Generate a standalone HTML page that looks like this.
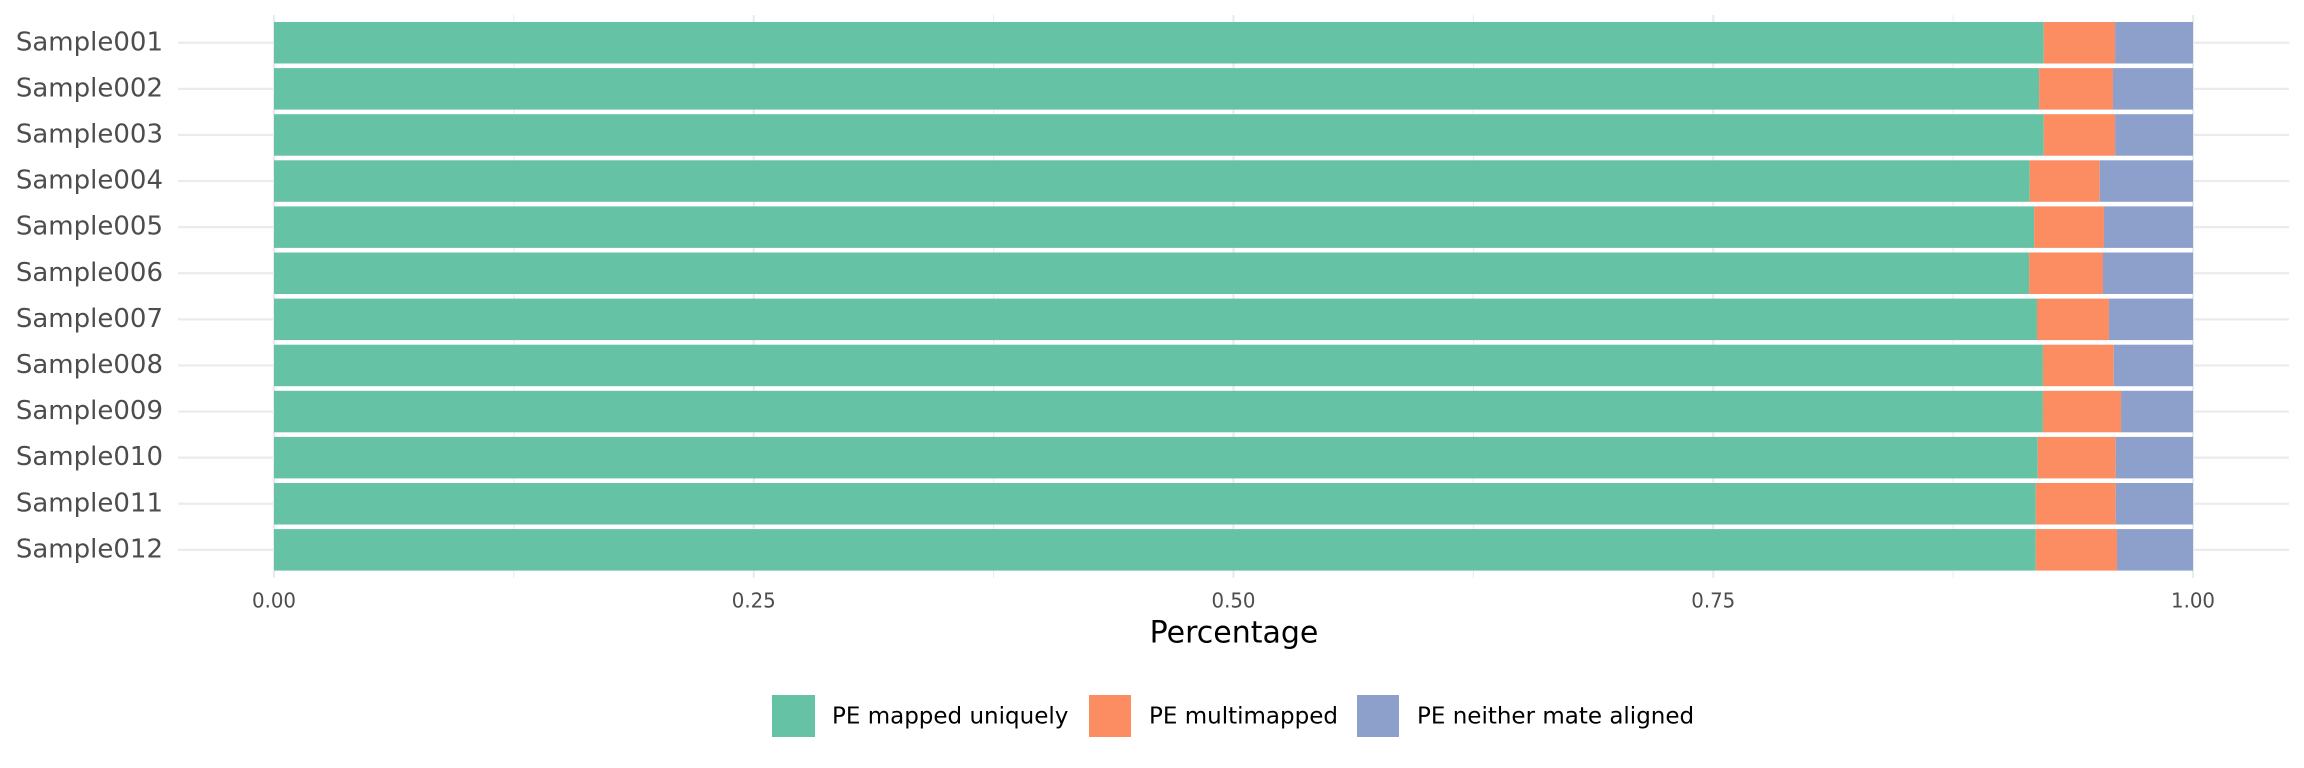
<!DOCTYPE html>
<html><head><meta charset="utf-8"><style>
html,body{margin:0;padding:0;background:#fff;}
svg{display:block;font-family:"DejaVu Sans","Liberation Sans",sans-serif;}
</style></head><body>
<svg id="chart" width="2304" height="768" viewBox="0 0 2304 768">
<g id="grid"></g>
<g id="bars"></g>
<g id="ylabels"></g>
<g id="xlabels"></g>
<text x="1234" y="634" font-size="30" fill="#000" text-anchor="middle" dominant-baseline="middle">Percentage</text>
<g>
<rect x="772" y="695" width="43" height="42" fill="#66C2A5"/>
<text x="832" y="717" font-size="23" fill="#000" dominant-baseline="middle">PE mapped uniquely</text>
<rect x="1089" y="695" width="42" height="42" fill="#FC8D62"/>
<text x="1149" y="717" font-size="23" fill="#000" dominant-baseline="middle">PE multimapped</text>
<rect x="1357" y="695" width="42" height="42" fill="#8DA0CB"/>
<text x="1417" y="717" font-size="23" fill="#000" dominant-baseline="middle">PE neither mate aligned</text>
</g>
</svg>
<script>
const categories = ["Sample001","Sample002","Sample003","Sample004","Sample005","Sample006","Sample007","Sample008","Sample009","Sample010","Sample011","Sample012"];
const uniquely = [0.9222,0.9198,0.9222,0.9149,0.9172,0.9146,0.9187,0.9218,0.9218,0.9191,0.9180,0.9180];
const multimapped = [0.0372,0.0385,0.0372,0.0365,0.0364,0.0385,0.0375,0.0369,0.0407,0.0406,0.0417,0.0424];
const neither = [0.0406,0.0417,0.0406,0.0486,0.0464,0.0469,0.0438,0.0413,0.0375,0.0403,0.0403,0.0396];
const xTicks = [0,0.25,0.5,0.75,1];
const xTickLabels = ["0.00","0.25","0.50","0.75","1.00"];
const xMinor = [0.125,0.375,0.625,0.875];
const colors = ["#66C2A5","#FC8D62","#8DA0CB"];

const NS="http://www.w3.org/2000/svg";
const X0=274, X1=2193, PT=15, PB=578, PL=178, PR=2289;
const step=46.1, barH=41.5, firstTop=22;
function xs(v){return X0+v*(X1-X0);}
function yc(i){return firstTop+barH/2+i*step;}
function mk(tag,attrs,parent){const e=document.createElementNS(NS,tag);for(const k in attrs)e.setAttribute(k,attrs[k]);parent.appendChild(e);return e;}
const grid=document.getElementById('grid'), bars=document.getElementById('bars'), yl=document.getElementById('ylabels'), xl=document.getElementById('xlabels');
xMinor.forEach(v=>{const l=mk('line',{x1:xs(v),x2:xs(v),y1:PT,y2:PB,stroke:'#ebebeb','stroke-width':1},grid);

});
xTicks.forEach((v,i)=>{const l=mk('line',{x1:xs(v),x2:xs(v),y1:PT,y2:PB,stroke:'#ebebeb','stroke-width':2.2},grid);


const t=mk('text',{x:xs(v),y:602,'font-size':20,fill:'#4d4d4d','text-anchor':'middle','dominant-baseline':'middle',textLength:44,lengthAdjust:'spacingAndGlyphs'},xl);
t.textContent=xTickLabels[i];

});
categories.forEach((c,i)=>{
const y=yc(i);
const g=mk('line',{x1:PL,x2:PR,y1:y,y2:y,stroke:'#ebebeb','stroke-width':2.2},grid);


const vals=[uniquely[i],multimapped[i],neither[i]];
let acc=0;
const names=['uniquely','multimapped','neither'];
vals.forEach((v,k)=>{
const r=mk('rect',{x:xs(acc),y:y-barH/2,width:xs(acc+v)-xs(acc),height:barH,fill:colors[k]},bars);


acc+=v;});
const t=mk('text',{x:163,y:y,'font-size':26,fill:'#4d4d4d','text-anchor':'end','dominant-baseline':'middle'},yl);
t.textContent=c;


});
</script>
</body></html>
